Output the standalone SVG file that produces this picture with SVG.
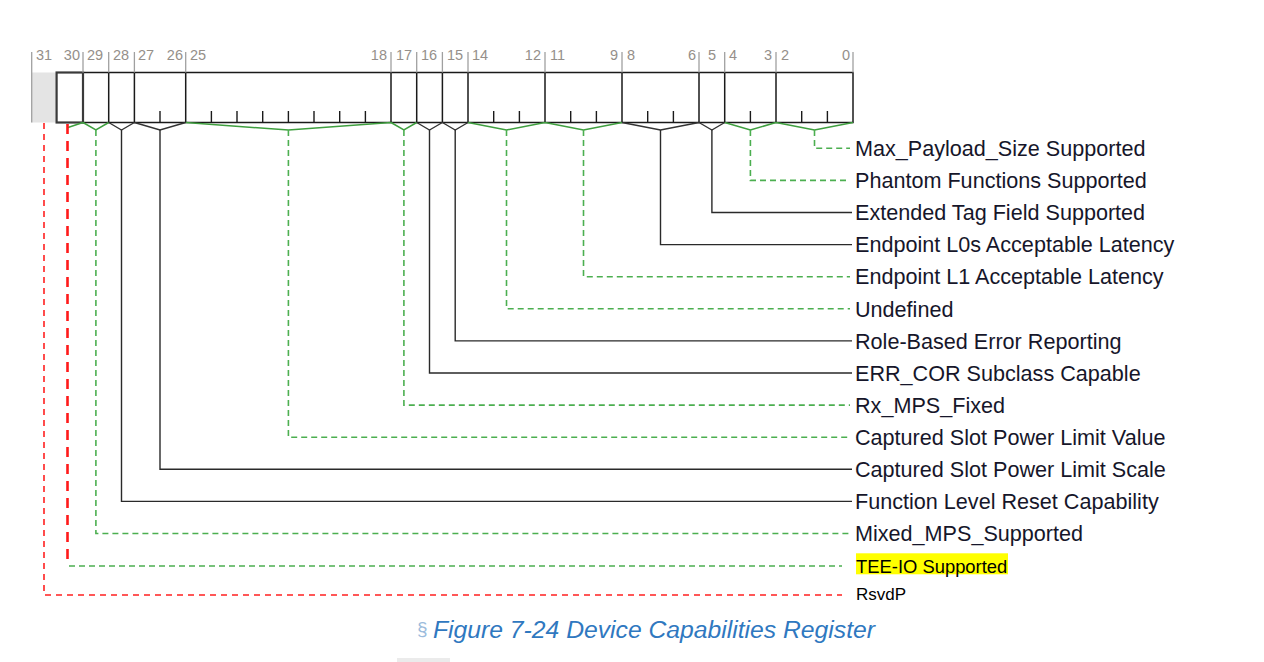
<svg xmlns="http://www.w3.org/2000/svg" width="1264" height="662" viewBox="0 0 1264 662">
<style>
.bg{fill:#ffffff}
.bitnum{font-family:"Liberation Sans",Arial,sans-serif;font-size:14.5px;fill:#958f8a}
.btick{stroke:#a0a0a0;stroke-width:1.3;fill:none}
.box{stroke:#1a1a1a;stroke-width:1.5;fill:#ffffff}
.div{stroke:#1a1a1a;stroke-width:1.5;fill:none}
.itick{stroke:#1a1a1a;stroke-width:1.4;fill:none}
.vg{stroke:#3f9f3f;stroke-width:1.5;fill:none}
.vb{stroke:#333333;stroke-width:1.4;fill:none}
.lg{stroke:#4caf50;stroke-width:1.6;fill:none;stroke-dasharray:6 4}
.lb{stroke:#2a2a2a;stroke-width:1.4;fill:none}
.lr{stroke:#ff2020;stroke-width:1.6;fill:none;stroke-dasharray:6 5}
.lr2{stroke:#ff1a1a;stroke-width:2.6;fill:none;stroke-dasharray:10 7}
.lbl{font-family:"Liberation Sans",Arial,sans-serif;font-size:21.6px;fill:#16162a}
.lbls{font-family:"Liberation Sans",Arial,sans-serif;fill:#000000}
</style>
<rect class="bg" x="0" y="0" width="1264" height="662"/>

<g id="register">
  <rect x="31.7" y="72.5" width="25" height="50" fill="#e4e4e4"/>
  <rect class="box" x="83" y="72.5" width="770" height="50"/>
  <rect x="56.6" y="72.5" width="26.4" height="50" fill="#ffffff" stroke="#3a3a3a" stroke-width="2.2"/>
  <path class="div" d="M108.7 72.5V122.5M134.4 72.5V122.5M185.7 72.5V122.5M391 72.5V122.5M416.7 72.5V122.5M442.4 72.5V122.5M468 72.5V122.5M545 72.5V122.5M622 72.5V122.5M699 72.5V122.5M724.7 72.5V122.5M776 72.5V122.5"/>
  <path class="itick" d="M160 111V122.5M211.4 111V122.5M237 111V122.5M262.7 111V122.5M288.4 111V122.5M314 111V122.5M339.7 111V122.5M365.4 111V122.5M493.7 111V122.5M519.4 111V122.5M570.7 111V122.5M596.4 111V122.5M647.7 111V122.5M673.4 111V122.5M750.4 111V122.5M801.7 111V122.5M827.4 111V122.5"/>
  <path class="btick" d="M31.7 52V122.5M83 52V72.5M108.7 52V72.5M134.4 52V72.5M185.7 52V72.5M391 52V72.5M416.7 52V72.5M442.4 52V72.5M468 52V72.5M545 52V72.5M622 52V72.5M699 52V72.5M724.7 52V72.5M776 52V72.5M853 52V72.5"/>
  <g class="bitnum">
    <text x="36" y="59.5">31</text>
    <text x="80" y="59.5" text-anchor="end">30</text>
    <text x="87" y="59.5">29</text>
    <text x="113" y="59.5">28</text>
    <text x="138" y="59.5">27</text>
    <text x="183" y="59.5" text-anchor="end">26</text>
    <text x="190" y="59.5">25</text>
    <text x="387" y="59.5" text-anchor="end">18</text>
    <text x="396" y="59.5">17</text>
    <text x="421" y="59.5">16</text>
    <text x="447" y="59.5">15</text>
    <text x="472" y="59.5">14</text>
    <text x="541" y="59.5" text-anchor="end">12</text>
    <text x="550" y="59.5">11</text>
    <text x="618" y="59.5" text-anchor="end">9</text>
    <text x="627" y="59.5">8</text>
    <text x="696" y="59.5" text-anchor="end">6</text>
    <text x="708" y="59.5">5</text>
    <text x="729" y="59.5">4</text>
    <text x="772" y="59.5" text-anchor="end">3</text>
    <text x="781" y="59.5">2</text>
    <text x="850" y="59.5" text-anchor="end">0</text>
  </g>
</g>

<g id="connectors">
  <path class="vg" d="M776 122.5L814.5 130L853 122.5M724.7 122.5L750.4 130L776 122.5M545 122.5L583.5 130L622 122.5M468 122.5L506.5 130L545 122.5M391 122.5L403.9 130L416.7 122.5M185.7 122.5L288.4 130L391 122.5M83 122.5L95.9 130L108.7 122.5M68 127.5L83 122.5"/>
  <path class="vb" d="M699 122.5L711.9 130L724.7 122.5M622 122.5L660.5 130L699 122.5M442.4 122.5L455.2 130L468 122.5M416.7 122.5L429.5 130L442.4 122.5M134.4 122.5L160 130L185.7 122.5M108.7 122.5L121.5 130L134.4 122.5"/>
  <path class="lg" d="M814.5 130V148.3H850"/>
  <path class="lg" d="M750.4 130V180.4H850"/>
  <path class="lb" d="M711.9 130V212.5H852"/>
  <path class="lb" d="M660.5 130V244.6H852"/>
  <path class="lg" d="M583.5 130V276.7H850"/>
  <path class="lg" d="M506.5 130V308.8H850"/>
  <path class="lb" d="M455.2 130V340.9H852"/>
  <path class="lb" d="M429.5 130V373H852"/>
  <path class="lg" d="M403.9 130V405.1H850"/>
  <path class="lg" d="M288.4 130V437.2H850"/>
  <path class="lb" d="M160 130V469.3H852"/>
  <path class="lb" d="M121.5 130V501.4H852"/>
  <path class="lg" d="M95.9 130V533.5H850"/>
  <path class="lg" d="M69 566H842"/>
  <path class="lr2" d="M67.5 124V564"/>
  <path class="lr" d="M44 123V595H842"/>
</g>

<g id="label-max-payload"><text class="lbl" x="855" y="156">Max_Payload_Size Supported</text></g>
<g id="label-phantom"><text class="lbl" x="855" y="188.1">Phantom Functions Supported</text></g>
<g id="label-ext-tag"><text class="lbl" x="855" y="220.2">Extended Tag Field Supported</text></g>
<g id="label-l0s"><text class="lbl" x="855" y="252.3">Endpoint L0s Acceptable Latency</text></g>
<g id="label-l1"><text class="lbl" x="855" y="284.4">Endpoint L1 Acceptable Latency</text></g>
<g id="label-undefined"><text class="lbl" x="855" y="316.5">Undefined</text></g>
<g id="label-role"><text class="lbl" x="855" y="348.6">Role-Based Error Reporting</text></g>
<g id="label-errcor"><text class="lbl" x="855" y="380.7">ERR_COR Subclass Capable</text></g>
<g id="label-rxmps"><text class="lbl" x="855" y="412.8">Rx_MPS_Fixed</text></g>
<g id="label-cspl-value"><text class="lbl" x="855" y="444.9">Captured Slot Power Limit Value</text></g>
<g id="label-cspl-scale"><text class="lbl" x="855" y="477">Captured Slot Power Limit Scale</text></g>
<g id="label-flr"><text class="lbl" x="855" y="509.1">Function Level Reset Capability</text></g>
<g id="label-mixed"><text class="lbl" x="855" y="541.2">Mixed_MPS_Supported</text></g>
<g id="label-tee">
  <rect x="856" y="553.3" width="152" height="21" fill="#ffff00"/>
  <text class="lbls" x="856" y="572.6" font-size="18.4">TEE-IO Supported</text>
</g>
<g id="label-rsvdp"><text class="lbls" x="856" y="600" font-size="17">RsvdP</text></g>

<g id="caption">
  <text x="417" y="635" font-family="'Liberation Sans',Arial,sans-serif" font-size="19" fill="#9bbbdc">§</text>
  <text x="433" y="638" font-family="'Liberation Sans',Arial,sans-serif" font-size="23" font-style="italic" fill="#2f78c0" textLength="442" lengthAdjust="spacingAndGlyphs">Figure 7-24 Device Capabilities Register</text>
</g>
<rect x="397" y="658" width="53" height="4" fill="#ebebeb"/>
</svg>
